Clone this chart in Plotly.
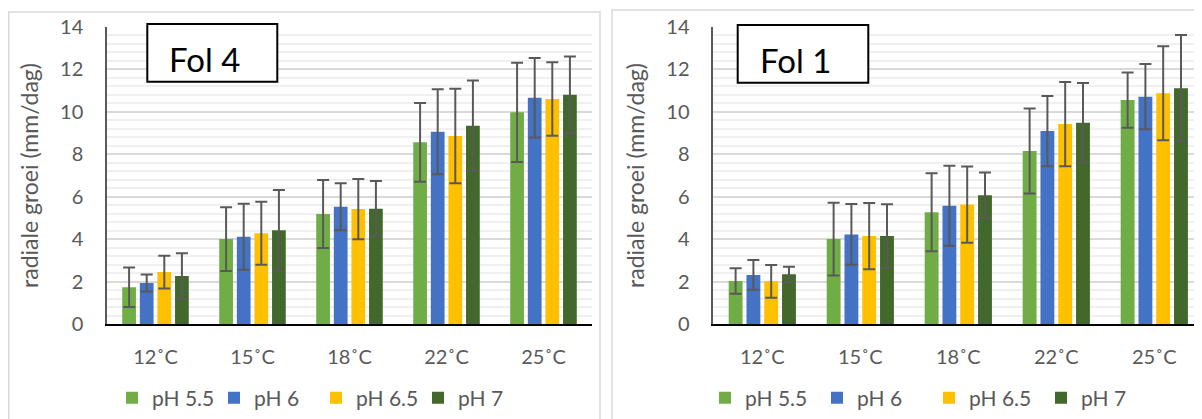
import plotly.graph_objects as go

W, H = 1202, 419
OFF = 8  # page offset of the plot div (default body margin)

categories = ["12˚C", "15˚C", "18˚C", "22˚C", "25˚C"]
series_names = ["pH 5.5", "pH 6", "pH 6.5", "pH 7"]
series_colors = ["#70AD47", "#4472C4", "#FFC000", "#43682B"]

# Fol 4 (left chart)
fol4_ph55 = [1.74, 4.01, 5.19, 8.56, 9.97]
fol4_ph6 = [1.94, 4.12, 5.53, 9.06, 10.66]
fol4_ph65 = [2.46, 4.28, 5.42, 8.86, 10.60]
fol4_ph7 = [2.27, 4.42, 5.44, 9.34, 10.80]
fol4_ph55_err = [0.93, 1.50, 1.60, 1.85, 2.33]
fol4_ph6_err = [0.40, 1.55, 1.10, 2.00, 1.87]
fol4_ph65_err = [0.77, 1.48, 1.42, 2.22, 1.73]
fol4_ph7_err = [1.07, 1.90, 1.30, 2.13, 1.80]

# Fol 1 (right chart)
fol1_ph55 = [2.04, 4.01, 5.27, 8.15, 10.55]
fol1_ph6 = [2.32, 4.23, 5.58, 9.09, 10.71]
fol1_ph65 = [2.02, 4.15, 5.63, 9.42, 10.87]
fol1_ph7 = [2.35, 4.15, 6.07, 9.48, 11.11]
fol1_ph55_err = [0.60, 1.71, 1.83, 2.00, 1.30]
fol1_ph6_err = [0.70, 1.43, 1.88, 1.65, 1.53]
fol1_ph65_err = [0.77, 1.56, 1.79, 1.98, 2.21]
fol1_ph7_err = [0.36, 1.50, 1.07, 1.87, 2.50]

y_title = "radiale groei (mm/dag)"
chart_labels = ["Fol 4", "Fol 1"]

FONT = "Lato, 'Open Sans', sans-serif"
GRAY = "#595959"


def px(x):
    return (x - OFF) / W


def py(y):
    return 1 - (y - OFF) / H


fig = go.Figure()

charts = [
    ([fol4_ph55, fol4_ph6, fol4_ph65, fol4_ph7],
     [fol4_ph55_err, fol4_ph6_err, fol4_ph65_err, fol4_ph7_err], "x", "y", "legend"),
    ([fol1_ph55, fol1_ph6, fol1_ph65, fol1_ph7],
     [fol1_ph55_err, fol1_ph6_err, fol1_ph65_err, fol1_ph7_err], "x2", "y2", "legend2"),
]

for vals_list, errs_list, xa, ya, lg in charts:
    for name, color, vals, errs in zip(series_names, series_colors, vals_list, errs_list):
        fig.add_trace(go.Bar(
            x=categories, y=vals, name=name,
            marker=dict(color=color, line=dict(width=0)),
            error_y=dict(type="data", array=errs, visible=True,
                         color=GRAY, thickness=2, width=6),
            xaxis=xa, yaxis=ya, legend=lg,
        ))

y_dom = [py(324.3), py(26.7)]

axis_common_x = dict(
    showline=True, linecolor="black", linewidth=2, ticks="",
    tickfont=dict(family=FONT, size=20, color=GRAY),
    ticklabelstandoff=14, showgrid=False, zeroline=False, fixedrange=True,
    automargin=False,
)
axis_common_y = dict(
    range=[0, 14], dtick=2, tick0=0,
    showline=True, linecolor=GRAY, linewidth=1.5,
    showgrid=True, gridcolor="#D9D9D9", gridwidth=1.5,
    minor=dict(dtick=0.4, tick0=0, showgrid=True, gridcolor="#F0F0F0", gridwidth=1.5),
    zeroline=False, ticks="",
    tickfont=dict(family=FONT, size=20, color=GRAY),
    ticklabelstandoff=18, automargin=False, fixedrange=True,
    title=dict(text=y_title, font=dict(family=FONT, size=23, color=GRAY), standoff=15),
)

legend_common = dict(orientation="h", xanchor="left", yanchor="middle",
                     entrywidthmode="pixels",
                     font=dict(family=FONT, size=21, color=GRAY), bgcolor="rgba(0,0,0,0)")

fig.update_layout(
    width=W, height=H,
    margin=dict(l=0, r=0, t=0, b=0, autoexpand=False),
    paper_bgcolor="white", plot_bgcolor="white",
    barmode="group", bargap=0.274, bargroupgap=0.22,
    xaxis=dict(domain=[px(107), px(592)], anchor="y", **axis_common_x),
    yaxis=dict(domain=y_dom, anchor="x", **axis_common_y),
    xaxis2=dict(domain=[px(713.3), px(1203.3)], anchor="y2", **axis_common_x),
    yaxis2=dict(domain=y_dom, anchor="x2", **axis_common_y),
    legend=dict(x=px(112), y=py(398), entrywidth=57, **legend_common),
    legend2=dict(x=px(705), y=py(398), entrywidth=67, **legend_common),
    showlegend=True,
)

# chart frames
fig.add_shape(type="rect", xref="paper", yref="paper",
              x0=px(8.8), y0=py(12), x1=px(600), y1=py(440),
              line=dict(color="#D9D9D9", width=1.5), fillcolor="rgba(0,0,0,0)", layer="below")
fig.add_shape(type="rect", xref="paper", yref="paper",
              x0=px(612), y0=py(10), x1=px(1230), y1=py(440),
              line=dict(color="#D9D9D9", width=1.5), fillcolor="rgba(0,0,0,0)", layer="below")

# label boxes
boxes = [((147.3, 24, 277.3, 81.7), 204.5), ((737.7, 25, 868.3, 82.7), 795.4)]
for label, ((bx0, by0, bx1, by1), tx) in zip(chart_labels, boxes):
    fig.add_shape(type="rect", xref="paper", yref="paper",
                  x0=px(bx0), y0=py(by0), x1=px(bx1), y1=py(by1),
                  line=dict(color="black", width=2), fillcolor="white", layer="above")
    fig.add_annotation(xref="paper", yref="paper", x=px(tx), y=py((by0 + by1) / 2 + 6),
                       text=label, showarrow=False, xanchor="center", yanchor="middle",
                       font=dict(family=FONT, size=33, color="black"))

fig.write_html("out.html")
